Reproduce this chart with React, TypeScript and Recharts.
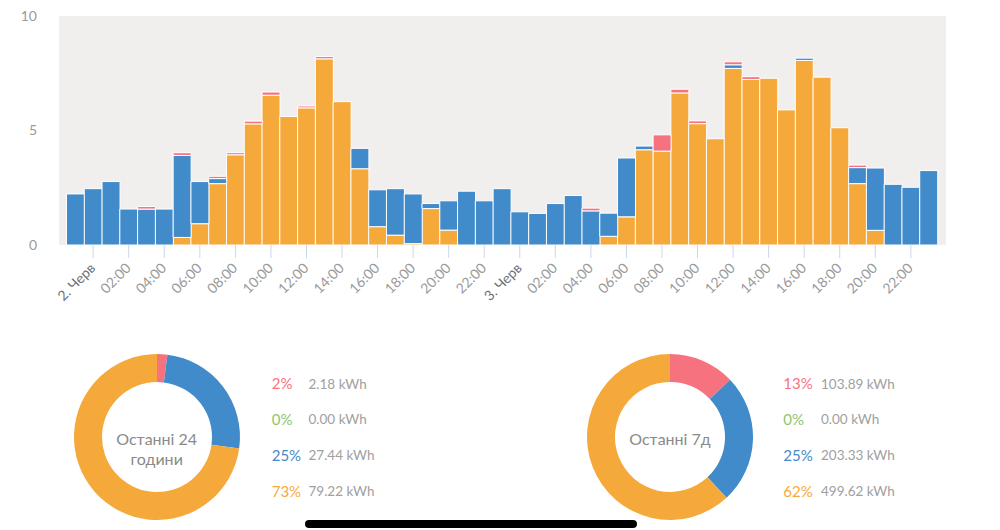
import React from 'react';
import { BarChart, Bar, XAxis, YAxis, CartesianGrid, PieChart, Pie, Cell } from 'recharts';

const COLORS = { red: '#f7727f', green: '#8dc66f', blue: '#428bca', orange: '#f6a93b' };

const categories = [
  '1.06 23:00',
  '2.06 00:00', '2.06 01:00', '2.06 02:00', '2.06 03:00', '2.06 04:00', '2.06 05:00',
  '2.06 06:00', '2.06 07:00', '2.06 08:00', '2.06 09:00', '2.06 10:00', '2.06 11:00',
  '2.06 12:00', '2.06 13:00', '2.06 14:00', '2.06 15:00', '2.06 16:00', '2.06 17:00',
  '2.06 18:00', '2.06 19:00', '2.06 20:00', '2.06 21:00', '2.06 22:00', '2.06 23:00',
  '3.06 00:00', '3.06 01:00', '3.06 02:00', '3.06 03:00', '3.06 04:00', '3.06 05:00',
  '3.06 06:00', '3.06 07:00', '3.06 08:00', '3.06 09:00', '3.06 10:00', '3.06 11:00',
  '3.06 12:00', '3.06 13:00', '3.06 14:00', '3.06 15:00', '3.06 16:00', '3.06 17:00',
  '3.06 18:00', '3.06 19:00', '3.06 20:00', '3.06 21:00', '3.06 22:00', '3.06 23:00',
];

const fromSolar = [
  0,
  0, 0, 0, 0, 0, 0.33,
  0.93, 2.68, 3.94, 5.29, 6.54, 5.61,
  5.99, 8.13, 6.26, 3.33, 0.8, 0.43,
  0.06, 1.59, 0.65, 0, 0, 0,
  0, 0, 0, 0, 0, 0.38,
  1.23, 4.16, 4.1, 6.64, 5.3, 4.64,
  7.71, 7.23, 7.28, 5.9, 8.06, 7.33,
  5.12, 2.68, 0.64, 0, 0, 0,
];

const fromGrid = [
  2.23,
  2.46, 2.77, 1.57, 1.57, 1.57, 3.58,
  1.84, 0.22, 0, 0, 0, 0,
  0, 0, 0, 0.89, 1.61, 2.03,
  2.17, 0.22, 1.28, 2.35, 1.93, 2.46,
  1.45, 1.38, 1.81, 2.16, 1.49, 1.01,
  2.57, 0.16, 0, 0, 0, 0,
  0.16, 0, 0, 0, 0.1, 0,
  0, 0.7, 2.72, 2.65, 2.52, 3.25,
];

const fromGenset = [
  0,
  0, 0, 0, 0, 0, 0,
  0, 0, 0, 0, 0, 0,
  0, 0, 0, 0, 0, 0,
  0, 0, 0, 0, 0, 0,
  0, 0, 0, 0, 0, 0,
  0, 0, 0, 0, 0, 0,
  0, 0, 0, 0, 0, 0,
  0, 0, 0, 0, 0, 0,
];

const fromBattery = [
  0,
  0, 0, 0, 0.11, 0, 0.12,
  0, 0.1, 0.09, 0.12, 0.14, 0,
  0.08, 0.1, 0, 0, 0, 0,
  0, 0, 0, 0, 0, 0,
  0, 0, 0, 0, 0.12, 0,
  0, 0, 0.71, 0.16, 0.12, 0,
  0.13, 0.12, 0, 0, 0, 0,
  0, 0.11, 0, 0, 0, 0,
];

const yTicks = [0, 5, 10];

const shareColors = [COLORS.red, COLORS.green, COLORS.blue, COLORS.orange];
const last24Values = [2.18, 0, 27.44, 79.22];
const last7Values = [103.89, 0, 203.33, 499.62];

const barData = categories.map((t, i) => ({
  t,
  solar: fromSolar[i],
  grid: fromGrid[i],
  genset: fromGenset[i],
  battery: fromBattery[i],
}));

const FONT = 'Lato, "Open Sans", sans-serif';

const XTick = (props: any) => {
  const { x, y, payload } = props;
  const [d, t] = String(payload.value).split(' ');
  const hour = parseInt(t, 10);
  if (hour % 2 !== 0) return <g />;
  const isDay = t === '00:00';
  const label = isDay ? `${parseInt(d, 10)}. Черв` : t;
  return (
    <g>
      <line x1={x} x2={x} y1={y} y2={y + 13} stroke="#ccd6eb" strokeWidth={1} />
      <text
        transform={`translate(${x + 3},${y + 24}) rotate(-45)`}
        textAnchor="end"
        fontSize={14}
        fontFamily={FONT}
        fill={isDay ? '#707070' : '#9a9a9a'}
      >
        {label}
      </text>
    </g>
  );
};

const Donut = ({ values, left }: { values: number[]; left: number }) => {
  const data = values.map((v, i) => ({ name: `s${i}`, value: v }));
  return (
    <div style={{ position: 'absolute', left, top: 337, width: 200, height: 200 }}>
      <PieChart width={200} height={200} margin={{ top: 0, right: 0, bottom: 0, left: 0 }}>
        <Pie
          data={data}
          dataKey="value"
          cx={100}
          cy={100}
          innerRadius={55}
          outerRadius={83}
          startAngle={90}
          endAngle={-270}
          stroke="none"
          isAnimationActive={false}
        >
          {data.map((d, i) => (
            <Cell key={d.name} fill={shareColors[i]} />
          ))}
        </Pie>
      </PieChart>
    </div>
  );
};

const rowBaselines = [389.3, 425.2, 461, 496.8];

const Legend = ({ values, pctX, valX }: { values: number[]; pctX: number; valX: number }) => {
  const total = values.reduce((a, b) => a + b, 0);
  return (
    <g>
      {values.map((v, i) => (
        <g key={i}>
          <text x={pctX} y={rowBaselines[i]} fontSize={15} fontFamily={FONT} fill={shareColors[i]}>
            {`${Math.round((v / total) * 100)}%`}
          </text>
          <text x={valX} y={rowBaselines[i] - 0.8} fontSize={13.5} fontFamily={FONT} fill="#a0a0a0">
            {`${v.toFixed(2)} kWh`}
          </text>
        </g>
      ))}
    </g>
  );
};

export default function App() {
  return (
    <div
      style={{
        position: 'absolute',
        left: 0,
        top: 0,
        width: 1000,
        height: 530,
        background: '#fff',
        overflow: 'hidden',
        fontFamily: FONT,
      }}
    >
      <div style={{ position: 'absolute', left: 0, top: 0 }}>
        <BarChart
          width={1000}
          height={320}
          data={barData}
          margin={{ top: 16, right: 54, left: 0, bottom: 0 }}
          barCategoryGap={0}
          barGap={0}
        >
          <CartesianGrid fill="#f0efed" horizontal={false} vertical={false} stroke="none" />
          <XAxis
            dataKey="t"
            type="category"
            interval={0}
            height={75}
            padding={{ left: 7.5, right: 8.5 }}
            axisLine={false}
            tickLine={false}
            tickSize={0}
            tickMargin={0}
            tick={<XTick />}
          />
          <YAxis
            width={59}
            domain={[0, 10]}
            ticks={yTicks}
            axisLine={false}
            tickLine={false}
            tickSize={0}
            tickMargin={22}
            tick={{ fontSize: 14, fill: '#9a9a9a', fontFamily: FONT }}
          />
          <Bar dataKey="solar" stackId="a" fill={COLORS.orange} stroke="#fff" strokeWidth={1} isAnimationActive={false} />
          <Bar dataKey="grid" stackId="a" fill={COLORS.blue} stroke="#fff" strokeWidth={1} isAnimationActive={false} />
          <Bar dataKey="genset" stackId="a" fill={COLORS.green} stroke="#fff" strokeWidth={1} isAnimationActive={false} />
          <Bar dataKey="battery" stackId="a" fill={COLORS.red} stroke="#fff" strokeWidth={1} isAnimationActive={false} />
        </BarChart>
      </div>

      <Donut values={last24Values} left={56.7} />
      <Donut values={last7Values} left={570} />

      <svg
        width={1000}
        height={530}
        style={{ position: 'absolute', left: 0, top: 0, pointerEvents: 'none' }}
      >
        <text x={156.7} y={445} textAnchor="middle" fontSize={16} fontFamily={FONT} fill="#8a8a8a">
          Останні 24
        </text>
        <text x={156.7} y={465} textAnchor="middle" fontSize={16} fontFamily={FONT} fill="#8a8a8a">
          години
        </text>
        <text x={670} y={445} textAnchor="middle" fontSize={16} fontFamily={FONT} fill="#8a8a8a">
          Останні 7д
        </text>
        <Legend values={last24Values} pctX={271.7} valX={308.5} />
        <Legend values={last7Values} pctX={783.3} valX={821} />
      </svg>

      <div
        style={{
          position: 'absolute',
          left: 305,
          top: 520,
          width: 332,
          height: 7.5,
          borderRadius: 4,
          background: '#000',
        }}
      />
    </div>
  );
}
